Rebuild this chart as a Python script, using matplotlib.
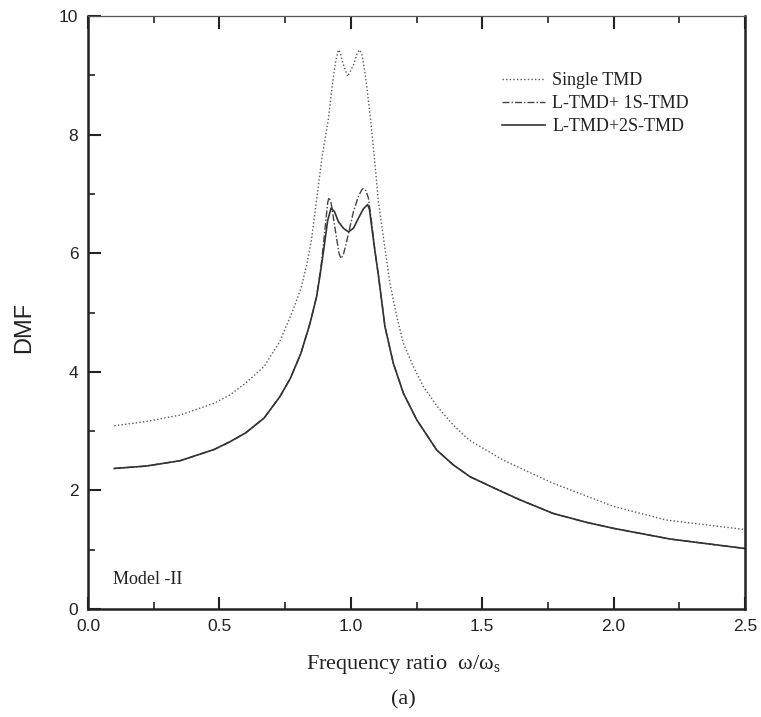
import matplotlib
matplotlib.use("Agg")
import matplotlib.pyplot as plt
from matplotlib.ticker import MultipleLocator

# data
x_single = [0.10, 0.22, 0.35, 0.48, 0.54, 0.60, 0.67, 0.73, 0.78, 0.81, 0.832, 0.85, 0.869,
            0.89, 0.915, 0.93, 0.943, 0.953, 0.96, 0.968, 0.988, 1.01, 1.025, 1.033, 1.042,
            1.052, 1.06, 1.075, 1.09, 1.105, 1.13, 1.149, 1.175, 1.20, 1.238, 1.276, 1.33,
            1.39, 1.45, 1.58, 1.77, 2.00, 2.20, 2.50]
y_single = [3.09, 3.16, 3.27, 3.47, 3.61, 3.81, 4.09, 4.51, 5.04, 5.40, 5.80, 6.22, 6.87,
            7.60, 8.27, 8.85, 9.25, 9.43, 9.38, 9.23, 8.98, 9.17, 9.38, 9.43, 9.36,
            9.10, 8.84, 8.27, 7.60, 6.87, 6.08, 5.49, 4.93, 4.48, 4.09, 3.75, 3.41,
            3.10, 2.85, 2.51, 2.12, 1.73, 1.50, 1.34]

x_1s = [0.10, 0.22, 0.35, 0.48, 0.54, 0.60, 0.67, 0.73, 0.77, 0.81, 0.845, 0.87, 0.889,
        0.902, 0.912, 0.917, 0.925, 0.940, 0.955, 0.963, 0.972, 0.984, 1.010, 1.030, 1.042,
        1.048, 1.058, 1.067, 1.079, 1.092, 1.105, 1.13, 1.162, 1.20, 1.251, 1.327, 1.39,
        1.454, 1.555, 1.644, 1.771, 1.898, 2.00, 2.215, 2.50]
y_1s = [2.37, 2.41, 2.50, 2.69, 2.82, 2.97, 3.22, 3.58, 3.89, 4.31, 4.82, 5.27, 5.86,
        6.42, 6.85, 6.94, 6.85, 6.42, 6.00, 5.91, 5.98, 6.19, 6.70, 6.97, 7.07,
        7.09, 7.05, 6.93, 6.53, 6.03, 5.63, 4.76, 4.14, 3.64, 3.19, 2.68, 2.43,
        2.23, 2.02, 1.84, 1.61, 1.46, 1.36, 1.18, 1.02]

x_2s = [0.10, 0.22, 0.35, 0.48, 0.54, 0.60, 0.67, 0.73, 0.77, 0.81, 0.845, 0.87, 0.883,
        0.896, 0.912, 0.925, 0.938, 0.953, 0.972, 0.991, 1.010, 1.029, 1.048, 1.064, 1.071,
        1.077, 1.092, 1.105, 1.13, 1.162, 1.20, 1.251, 1.327, 1.39, 1.454, 1.555, 1.644,
        1.771, 1.898, 2.00, 2.215, 2.50]
y_2s = [2.37, 2.41, 2.50, 2.69, 2.82, 2.97, 3.22, 3.58, 3.89, 4.31, 4.82, 5.27, 5.63,
        6.03, 6.55, 6.76, 6.70, 6.53, 6.42, 6.36, 6.42, 6.59, 6.75, 6.82, 6.74,
        6.53, 6.03, 5.63, 4.76, 4.14, 3.64, 3.19, 2.68, 2.43, 2.23, 2.02, 1.84,
        1.61, 1.46, 1.36, 1.18, 1.02]

labels = ["Single TMD", "L-TMD+ 1S-TMD", "L-TMD+2S-TMD"]

fig = plt.figure(figsize=(7.61, 7.17), dpi=100)
ax = fig.add_axes([88 / 761, 1 - 609 / 717, 657 / 761, 593 / 717])

ax.plot(x_single, y_single, color="#5a5a5a", lw=1.0, linestyle=(0, (1, 1.6)), label=labels[0])
ax.plot(x_1s, y_1s, color="#444444", lw=1.0, linestyle=(0, (5, 1.5, 1, 1.5)), label=labels[1])
ax.plot(x_2s, y_2s, color="#333333", lw=1.2, linestyle="-", label=labels[2])

ax.set_xlim(0, 2.5)
ax.set_ylim(0, 10)
ax.xaxis.set_major_locator(MultipleLocator(0.5))
ax.xaxis.set_minor_locator(MultipleLocator(0.25))
ax.yaxis.set_major_locator(MultipleLocator(2))
ax.yaxis.set_minor_locator(MultipleLocator(1))
ax.set_xticks([0, 0.5, 1.0, 1.5, 2.0, 2.5])
ax.set_xticklabels(["0.0", "0.5", "1.0", "1.5", "2.0", "2.5"])

ax.tick_params(which="both", direction="in", top=True, right=False, color="#222222")
ax.tick_params(which="major", length=9, width=1.5)
ax.tick_params(which="minor", length=5, width=1.2)
ax.tick_params(axis="x", pad=7)
ax.tick_params(axis="y", pad=7)
for lab in ax.get_xticklabels() + ax.get_yticklabels():
    lab.set_fontfamily("Liberation Sans")
    lab.set_fontsize(12.5)
    lab.set_color("#222222")

for side in ["left", "bottom", "right"]:
    ax.spines[side].set_linewidth(1.8)
    ax.spines[side].set_color("#222222")
ax.spines["top"].set_linewidth(0.9)
ax.spines["top"].set_color("#555555")

leg = ax.legend(loc="upper left", bbox_to_anchor=(0.63, 0.905), frameon=False,
                borderpad=0, borderaxespad=0, handlelength=2.4, handletextpad=0.4,
                labelspacing=0.32, prop={"family": "Liberation Serif", "size": 13})
for t in leg.get_texts():
    t.set_color("#222222")

ax.text(0.038, 0.049, "Model -II", transform=ax.transAxes, family="Liberation Serif",
        fontsize=13, va="center", ha="left", color="#222222")

plt.rcParams["mathtext.fontset"] = "stix"
fig.text(24 / 761, 1 - 327 / 717, "DMF", rotation=90, family="Liberation Sans",
         fontsize=17, ha="center", va="center", color="#222222")
fig.text(403 / 761, 1 - 665 / 717, "Frequency ratio  ω/ω$_\\mathregular{s}$",
         family="Liberation Serif", fontsize=16, ha="center", va="center", color="#222222")
fig.text(403 / 761, 1 - 700 / 717, "(a)", family="Liberation Serif", fontsize=16,
         ha="center", va="center", color="#222222")

fig.savefig("out.png", dpi=100)
